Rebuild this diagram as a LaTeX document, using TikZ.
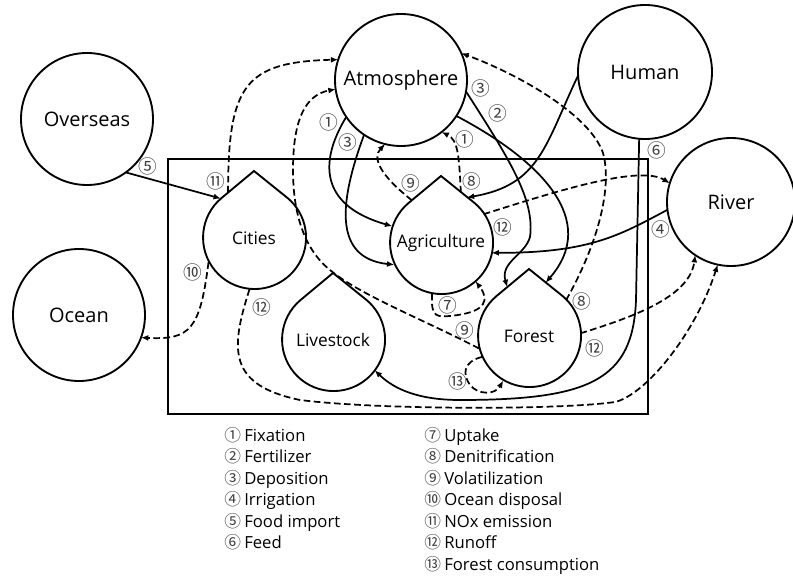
\documentclass[tikz,border=0pt]{standalone}
\usepackage{fontspec}
\setmainfont{Open Sans}
\newfontfamily\circfont{Noto Sans CJK KR}
\usetikzlibrary{arrows.meta,calc}
\newcommand{\mydrop}[4]{%
  \node[dropc] (#1) at (#2,#3) {#4};
  \coordinate (#1-tip) at ([yshift=50.25pt]#1.center);
  \draw[ln] (#1-tip) -- (#1.129.8) arc[start angle=129.8,end angle=410.2,radius=38.625pt] -- cycle;
}
\newcommand{\legline}[2]{{\circfont\fontsize{12.5}{12}\selectfont\color{black!75}#1}\hspace{2.5pt}#2}
\begin{document}
\begin{tikzpicture}[x=0.75pt,y=0.75pt,
  ln/.style={line width=1.4pt},
  arr/.style={line width=1.3pt,-{Latex[length=5.5pt,width=4.5pt]}},
  darr/.style={arr,dash pattern=on 5pt off 2.6pt},
  bigc/.style={circle,draw,line width=1.4pt,inner sep=0pt,outer sep=0pt,font=\fontsize{15}{18}\selectfont},
  dropc/.style={circle,inner sep=0pt,outer sep=0pt,minimum size=77.25pt,font=\fontsize{13}{16}\selectfont},
  lab/.style={font=\circfont\fontsize{14}{14}\selectfont,text=black!75,inner sep=0pt},
  leg/.style={anchor=north west,align=left,inner sep=0pt,font=\fontsize{12.5}{16.1}\selectfont},
]
\useasboundingbox (0,0) rectangle (793,-577);
% system boundary
\draw[ln] (168,-159) rectangle (648,-414);
% big circles
\node[bigc,minimum size=99pt] (atm) at (401,-80) {Atmosphere};
\node[bigc,minimum size=100.5pt] (human) at (645,-72) {Human};
\node[bigc,minimum size=96pt] (river) at (731,-202) {River};
\node[bigc,minimum size=99pt] (over) at (87,-119) {Overseas};
\node[bigc,minimum size=99pt] (ocean) at (79,-315) {Ocean};
% drops
\mydrop{cities}{254}{-238}{Cities}
\mydrop{agri}{441}{-243}{Agriculture}
\mydrop{forest}{529}{-336}{Forest}
\mydrop{live}{333}{-340}{Livestock}
% connectors
\draw[arr] (over.-54) -- (cities.130);
\draw[darr] (cities.208) .. controls (200,-330) and (190,-340) .. (ocean.-20);
\draw[darr] ($(cities-tip)!0.8!(cities.129.8)$) .. controls (228,-85) and (245,-62) .. (atm.162);
\draw[darr] (cities.265) .. controls (230,-350) and (228,-385) .. (300,-400) .. controls (380,-410) and (560,-410) .. (615,-402) .. controls (645,-395) and (695,-335) .. (river.-102);
\draw[darr] (agri.34) .. controls (560,-190) and (640,-165) .. (river.163);
\draw[arr] (river.187) .. controls (620,-235) and (590,-253) .. (agri.-11);
\draw[darr] (forest.3) .. controls (640,-315) and (690,-295) .. (river.-124);
\draw[arr] (human.-95) -- (636,-300) .. controls (633,-380) and (590,-400) .. (460,-400) .. controls (420,-400) and (395,-390) .. (live.-36);
\draw[arr] (human.183) .. controls (545,-145) and (540,-185) .. ($(agri-tip)!0.78!(agri.50.2)$);
\draw[arr] (atm.214) .. controls (320,-160) and (318,-205) .. (agri.161);
\draw[arr] (atm.236) .. controls (340,-200) and (332,-258) .. (agri.205);
\draw[arr] (atm.-10) .. controls (510,-160) and (535,-200) .. (530,-237) .. controls (525,-255) and (500,-262) .. ($(forest-tip)!0.67!(forest.129.8)$);
\draw[arr] (atm.-33) .. controls (540,-160) and (600,-220) .. ($(forest-tip)!0.5!(forest.50.2)$);
\draw[darr] ($(agri-tip)!0.9!(agri.129.8)$) .. controls (380,-175) and (372,-158) .. (atm.256);
\draw[darr] ($(agri-tip)!0.6!(agri.50.2)$) .. controls (459,-155) and (458,-140) .. (atm.-52);
\draw[darr] (forest.44) .. controls (600,-240) and (612,-185) .. (603,-153) .. controls (590,-115) and (520,-75) .. (atm.24);
\draw[darr] (forest.194) .. controls (420,-318) and (360,-295) .. (330,-270) .. controls (305,-250) and (293,-215) .. (293,-170) .. controls (293,-120) and (305,-95) .. (atm.188);
\draw[darr] (agri.260) .. controls (431,-318) and (435,-318) .. (458,-315) .. controls (485,-311) and (490,-300) .. (agri.-48);
\draw[darr] (forest.204) .. controls (462,-362) and (463,-375) .. (470,-385) .. controls (478,-395) and (495,-395) .. (forest.240);
% circled labels
\node[lab] (n5) at (148,-166) {⑤};
\node[lab] (n11) at (216,-181) {⑪};
\node[lab] (n10) at (193,-272) {⑩};
\node[lab] (n12a) at (262,-307) {⑫};
\node[lab] (n1a) at (329,-122) {①};
\node[lab] (n3a) at (348,-142) {③};
\node[lab] (n3b) at (481,-88) {③};
\node[lab] (n2) at (498,-113) {②};
\node[lab] (n1b) at (465,-139) {①};
\node[lab] (n9a) at (411,-183) {⑨};
\node[lab] (n8a) at (472,-181) {⑧};
\node[lab] (n12b) at (503,-227) {⑫};
\node[lab] (n4) at (661,-229) {④};
\node[lab] (n6) at (657,-150) {⑥};
\node[lab] (n7) at (448,-305) {⑦};
\node[lab] (n9b) at (465,-330) {⑨};
\node[lab] (n8b) at (582,-301) {⑧};
\node[lab] (n12c) at (595,-348) {⑫};
\node[lab] (n13) at (458,-381) {⑬};
% legend
\node[leg] (legA) at (224,-427) {\legline{①}{Fixation}\\\legline{②}{Fertilizer}\\\legline{③}{Deposition}\\\legline{④}{Irrigation}\\\legline{⑤}{Food import}\\\legline{⑥}{Feed}};
\node[leg] (legB) at (424,-427) {\legline{⑦}{Uptake}\\\legline{⑧}{Denitrification}\\\legline{⑨}{Volatilization}\\\legline{⑩}{Ocean disposal}\\\legline{⑪}{NOx emission}\\\legline{⑫}{Runoff}\\\legline{⑬}{Forest consumption}};
\end{tikzpicture}
\end{document}
